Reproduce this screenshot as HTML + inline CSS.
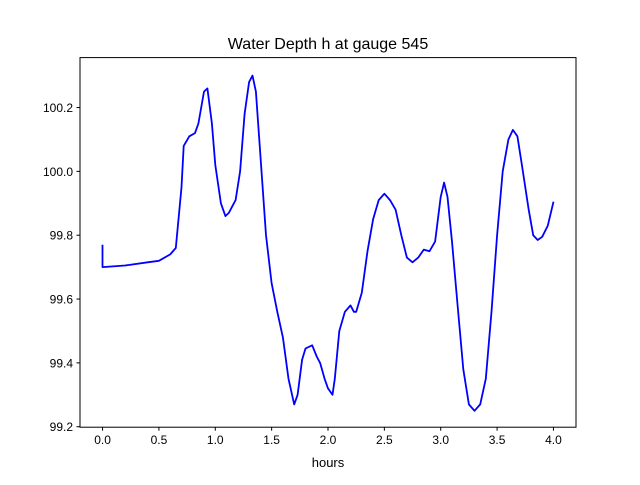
<!DOCTYPE html>
<html><head><meta charset="utf-8"><style>
body{margin:0;background:#fff}
svg{font-family:"Liberation Sans","DejaVu Sans",sans-serif}
</style></head><body>
<svg id="chart" width="640" height="480">
<rect width="640" height="480" fill="#fff"/>
<text x="328" y="49" font-size="16" text-anchor="middle">Water Depth h at gauge 545</text>
<g id="ticks"></g>
<polyline id="line" fill="none" stroke="#0000ff" stroke-width="1.8" stroke-linejoin="round"/>
<rect x="80" y="57.6" width="496" height="369.6" fill="none" stroke="#000" stroke-width="1"/>
<text x="328" y="467" font-size="13" text-anchor="middle">hours</text>
</svg>
<script>
const hours=[0,0,0.2,0.4,0.5,0.6,0.65,0.7,0.72,0.77,0.82,0.85,0.9,0.93,0.97,1.0,1.05,1.09,1.12,1.18,1.22,1.26,1.3,1.33,1.36,1.4,1.45,1.5,1.55,1.6,1.65,1.7,1.73,1.77,1.8,1.86,1.9,1.93,1.97,2.0,2.04,2.06,2.1,2.15,2.2,2.23,2.25,2.3,2.35,2.4,2.45,2.5,2.55,2.6,2.65,2.7,2.75,2.8,2.85,2.9,2.95,3.0,3.03,3.06,3.1,3.15,3.2,3.25,3.3,3.35,3.4,3.45,3.5,3.55,3.6,3.64,3.68,3.72,3.78,3.82,3.86,3.9,3.95,4.0];
const depth=[99.77,99.70,99.705,99.715,99.72,99.74,99.76,99.95,100.08,100.11,100.12,100.15,100.25,100.26,100.15,100.02,99.90,99.86,99.87,99.91,100.0,100.18,100.28,100.30,100.25,100.05,99.80,99.65,99.56,99.48,99.35,99.27,99.30,99.41,99.445,99.455,99.42,99.40,99.35,99.32,99.30,99.35,99.50,99.56,99.58,99.56,99.56,99.62,99.75,99.85,99.91,99.93,99.91,99.88,99.80,99.73,99.715,99.73,99.755,99.75,99.78,99.92,99.965,99.92,99.78,99.58,99.38,99.27,99.25,99.27,99.35,99.56,99.80,100.0,100.10,100.13,100.11,100.02,99.88,99.80,99.785,99.795,99.83,99.905];
const xTicks=[0,0.5,1,1.5,2,2.5,3,3.5,4];
const xTickLabels=["0.0","0.5","1.0","1.5","2.0","2.5","3.0","3.5","4.0"];
const yTicks=[99.2,99.4,99.6,99.8,100.0,100.2];
const yTickLabels=["99.2","99.4","99.6","99.8","100.0","100.2"];
const L=80,R=576,T=57.6,B=427.2;
const xmin=-0.2,xmax=4.2,ymin=99.1985,ymax=100.3565;
const xs=v=>L+(v-xmin)/(xmax-xmin)*(R-L);
const ys=v=>B-(v-ymin)/(ymax-ymin)*(B-T);
const NS="http://www.w3.org/2000/svg";
const g=document.getElementById('ticks');
function mk(tag,attrs){const e=document.createElementNS(NS,tag);for(const k in attrs)e.setAttribute(k,attrs[k]);return e;}
xTicks.forEach((t,i)=>{
 const ln=mk('line',{x1:xs(t),x2:xs(t),y1:B,y2:B+3.5,stroke:'#000'});
 
 
 g.appendChild(ln);
 const tx=mk('text',{x:xs(t),y:B+17,'font-size':12,'text-anchor':'middle'});
 
 
 tx.textContent=xTickLabels[i];g.appendChild(tx);
});
yTicks.forEach((t,i)=>{
 const ln=mk('line',{x1:L-3.5,x2:L,y1:ys(t),y2:ys(t),stroke:'#000'});
 
 
 g.appendChild(ln);
 const tx=mk('text',{x:L-7,y:ys(t)+4.5,'font-size':12,'text-anchor':'end'});
 
 
 tx.textContent=yTickLabels[i];g.appendChild(tx);
});
document.getElementById('line').setAttribute('points',hours.map((h,i)=>xs(h).toFixed(1)+','+ys(depth[i]).toFixed(1)).join(' '));
</script>
</body></html>
